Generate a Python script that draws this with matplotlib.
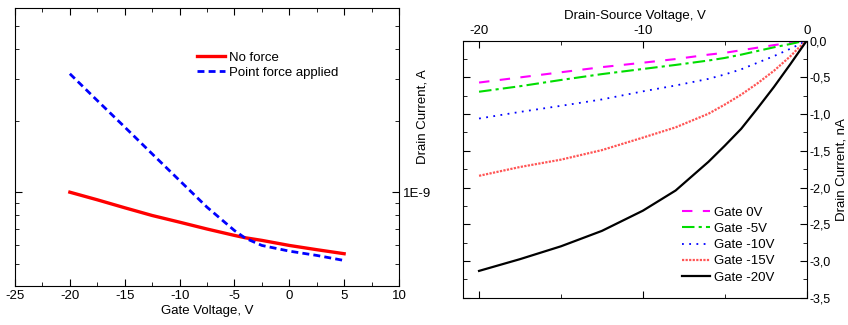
import matplotlib
matplotlib.use("Agg")
import matplotlib.pyplot as plt
from matplotlib.ticker import FixedLocator, FuncFormatter, MultipleLocator, LogLocator, NullFormatter

plt.rcParams["font.family"] = ["Liberation Sans", "DejaVu Sans"]
plt.rcParams["font.size"] = 9.5
plt.rcParams["axes.unicode_minus"] = False

# left panel: transfer curves (A)
gate_v = [-20, -17.5, -15, -12.5, -10, -7.5, -5, -4, -2.5, 0, 2.5, 5]
no_force = [1.00e-9, 0.929e-9, 0.86e-9, 0.798e-9, 0.748e-9, 0.70e-9, 0.658e-9,
            0.643e-9, 0.627e-9, 0.597e-9, 0.573e-9, 0.551e-9]
point_force = [3.15e-9, 2.43e-9, 1.88e-9, 1.45e-9, 1.12e-9, 0.865e-9, 0.69e-9,
               0.64e-9, 0.597e-9, 0.565e-9, 0.542e-9, 0.516e-9]

# right panel: output curves (nA)
vds = [-20, -17.5, -15, -12.5, -10, -8, -6, -5, -4, -3, -2, -1, -0.5, 0]
gate_0 = [-0.57, -0.50, -0.43, -0.36, -0.30, -0.25, -0.19, -0.165, -0.13, -0.095,
          -0.06, -0.03, -0.015, 0]
gate_m5 = [-0.695, -0.62, -0.535, -0.455, -0.385, -0.33, -0.27, -0.235, -0.19, -0.14,
           -0.09, -0.045, -0.02, 0]
gate_m10 = [-1.06, -0.97, -0.887, -0.80, -0.69, -0.61, -0.52, -0.46, -0.39, -0.30,
            -0.21, -0.11, -0.055, 0]
gate_m15 = [-1.84, -1.72, -1.62, -1.49, -1.32, -1.18, -0.995, -0.87, -0.735, -0.58,
            -0.41, -0.213, -0.10, 0]
gate_m20 = [-3.135, -2.975, -2.80, -2.59, -2.315, -2.04, -1.65, -1.43, -1.20, -0.92,
            -0.63, -0.32, -0.16, 0]

fig = plt.figure(figsize=(8.48, 3.25), dpi=100)

ax1 = fig.add_axes([0.0177, 0.12, 0.4528, 0.855])
ax1.plot(gate_v, no_force, color="red", lw=2.4, label="No force")
ax1.plot(gate_v, point_force, color="blue", lw=2, ls=(0, (2.5, 1.5)), label="Point force applied")
ax1.set_yscale("log")
ax1.set_xlim(-25, 10)
ax1.set_ylim(4.03e-10, 5.95e-9)
ax1.xaxis.set_major_locator(MultipleLocator(5))
ax1.xaxis.set_minor_locator(MultipleLocator(2.5))
ax1.yaxis.set_major_locator(FixedLocator([1e-9]))
ax1.yaxis.set_major_formatter(FuncFormatter(lambda v, p: "1E-9"))
ax1.yaxis.set_minor_locator(LogLocator(base=10, subs=range(2, 10)))
ax1.yaxis.set_minor_formatter(NullFormatter())
ax1.yaxis.tick_right()
ax1.tick_params(which="both", direction="in", top=True, left=True, right=True)
ax1.tick_params(which="major", length=5, pad=3)
ax1.tick_params(which="minor", length=3)
ax1.set_xlabel("Gate Voltage, V", labelpad=2)
ax1.yaxis.set_label_position("right")
ax1.set_ylabel("Drain Current, A")
ax1.yaxis.set_label_coords(1.062, 0.61)
ax1.yaxis.label.set_va("center")
ax1.legend(loc="upper left", bbox_to_anchor=(0.474, 0.843), frameon=False,
           handlelength=2.1, handletextpad=0.3, borderpad=0, borderaxespad=0,
           labelspacing=0.2)

ax2 = fig.add_axes([0.5456, 0.084, 0.4057, 0.7908])
ax2.plot(vds, gate_0, color="magenta", lw=1.5, ls=(0, (5, 5)), label="Gate 0V")
ax2.plot(vds, gate_m5, color="#00dd00", lw=1.5, ls=(0, (6, 2, 1.5, 2)), label="Gate -5V")
ax2.plot(vds, gate_m10, color="blue", lw=1.3, ls=(0, (1, 3)), label="Gate -10V")
ax2.plot(vds, gate_m15, color="#ff5555", lw=1.6, ls=(0, (1, 0.6)), label="Gate -15V")
ax2.plot(vds, gate_m20, color="black", lw=1.6, label="Gate -20V")
ax2.set_xlim(-21, 0)
ax2.set_ylim(-3.5, 0)
ax2.xaxis.set_major_locator(MultipleLocator(10))
ax2.xaxis.set_minor_locator(MultipleLocator(5))
ax2.yaxis.set_major_locator(MultipleLocator(0.5))
ax2.yaxis.set_minor_locator(MultipleLocator(0.25))
ax2.yaxis.set_major_formatter(FuncFormatter(lambda v, p: f"{v:.1f}".replace(".", ",")))
ax2.xaxis.tick_top()
ax2.xaxis.set_label_position("top")
ax2.yaxis.tick_right()
ax2.tick_params(which="both", direction="in", top=True, bottom=True, left=True, right=True)
ax2.tick_params(which="major", length=5, pad=3)
ax2.tick_params(which="minor", length=3)
ax2.tick_params(axis="y", labelsize=9, pad=2)
ax2.set_xlabel("Drain-Source Voltage, V", labelpad=4)
ax2.yaxis.set_label_position("right")
ax2.set_ylabel("Drain Current, nA")
ax2.yaxis.set_label_coords(1.102, 0.5)
ax2.yaxis.label.set_va("center")
ax2.legend(loc="lower left", bbox_to_anchor=(0.6375, 0.055), frameon=False,
           handlelength=2.1, handletextpad=0.3, borderpad=0, borderaxespad=0,
           labelspacing=0.3)

fig.savefig("out.png", dpi=100)
